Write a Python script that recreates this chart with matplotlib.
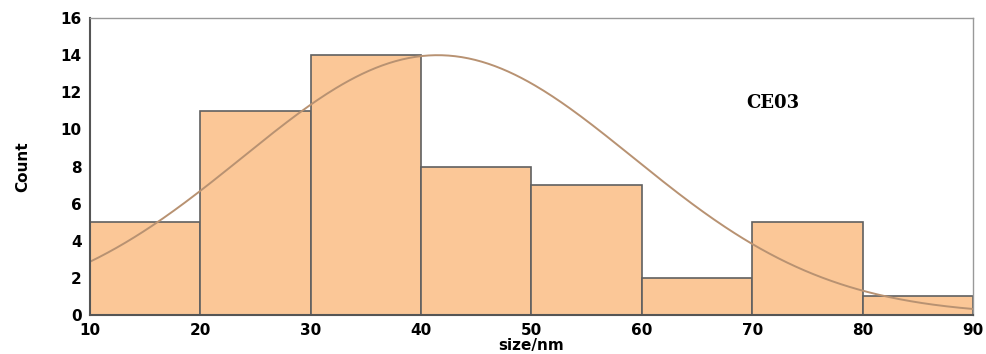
import numpy as np
import matplotlib.pyplot as plt

# histogram data (size in nm)
bin_edges = [10, 20, 30, 40, 50, 60, 70, 80, 90]
counts = [5, 11, 14, 8, 7, 2, 5, 1]

# normal fit parameters
fit_amp = 14.0
fit_mean = 41.5
fit_sd = 17.7

fig = plt.figure(figsize=(9.87, 3.54), dpi=100)
ax = fig.add_axes([0.0912, 0.110, 0.8946, 0.839])

widths = np.diff(bin_edges)
ax.bar(bin_edges[:-1], counts, width=widths, align='edge',
       color='#FBC797', edgecolor='#606060', linewidth=1.2)

xs = np.linspace(10, 90, 400)
ys = fit_amp * np.exp(-(xs - fit_mean) ** 2 / (2 * fit_sd ** 2))
ax.plot(xs, ys, color='#B89272', linewidth=1.4)

ax.set_xlim(10, 90)
ax.set_ylim(0, 16)
ax.set_xticks(range(10, 91, 10))
ax.set_yticks(range(0, 17, 2))
ax.tick_params(length=0, labelsize=11, pad=6)
for lbl in ax.get_xticklabels() + ax.get_yticklabels():
    lbl.set_fontweight('bold')
    lbl.set_fontfamily('DejaVu Sans')

for side in ['left', 'bottom']:
    ax.spines[side].set_color('#555555')
    ax.spines[side].set_linewidth(1.5)
for side in ['top', 'right']:
    ax.spines[side].set_color('#999999')
    ax.spines[side].set_linewidth(1.0)

ax.set_xlabel('size/nm', fontsize=11, fontweight='bold', labelpad=0)
ax.set_ylabel('Count', fontsize=11, fontweight='bold', labelpad=22)

ax.text(69.5, 11.4, 'CE03', fontsize=13, fontweight='bold',
        family='DejaVu Serif', ha='left', va='center')

fig.savefig('out.png', dpi=100)
